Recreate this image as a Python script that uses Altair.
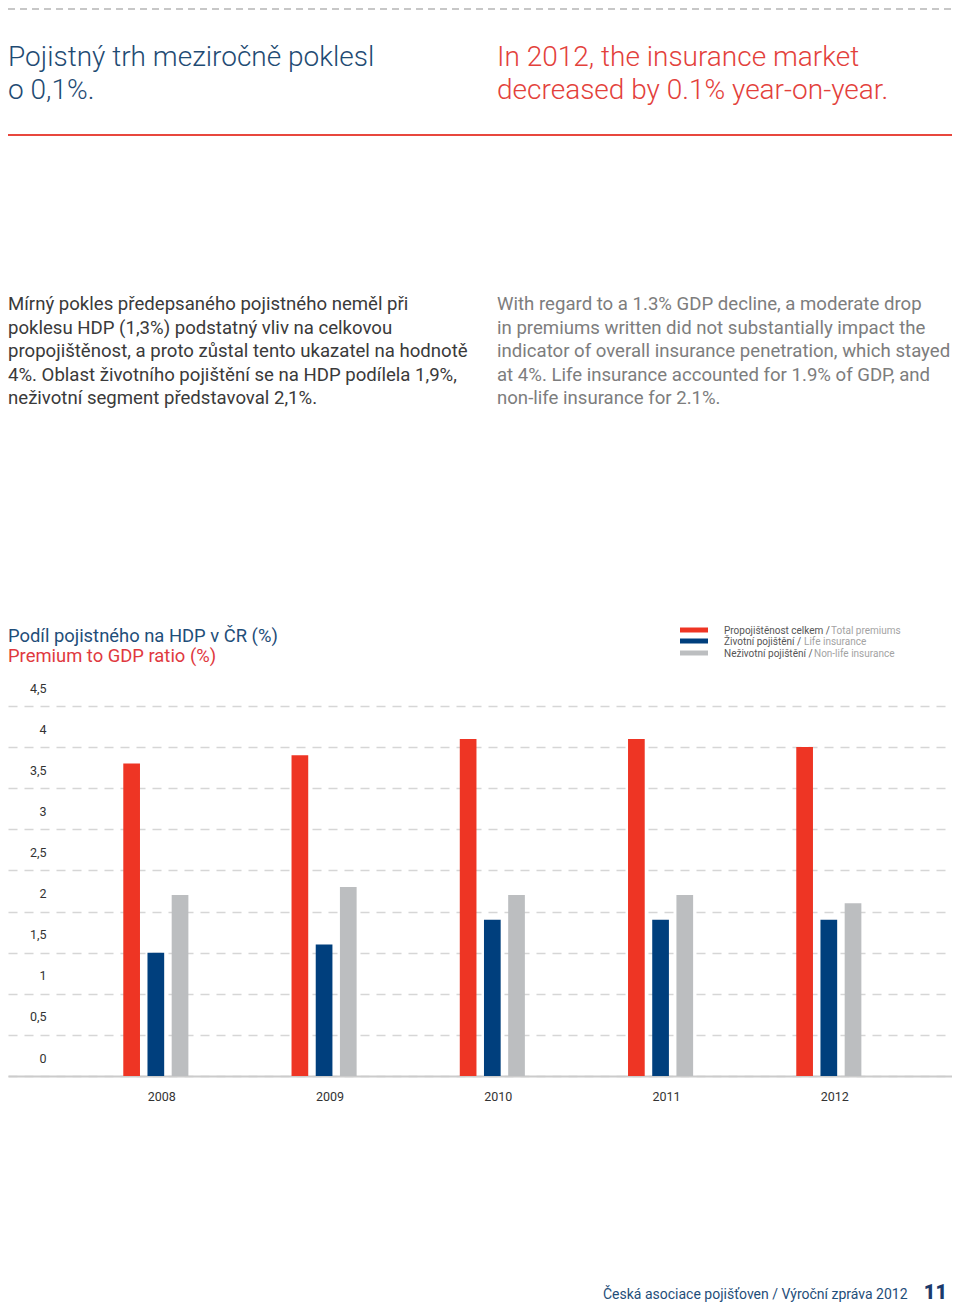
import altair as alt
import pandas as pd

# ---- data ----
years = ["2008", "2009", "2010", "2011", "2012"]
series = ["Propojištěnost celkem", "Životní pojištění", "Neživotní pojištění"]
series_en = ["Total premiums", "Life insurance", "Non-life insurance"]
total = [3.8, 3.9, 4.1, 4.1, 4.0]
life = [1.5, 1.6, 1.9, 1.9, 1.9]
nonlife = [2.2, 2.3, 2.2, 2.2, 2.1]
y_ticks = [0, 0.5, 1, 1.5, 2, 2.5, 3, 3.5, 4, 4.5]

colors = ["#ee3524", "#003f7d", "#bcbec0"]

head_cz = ["Pojistný trh meziročně poklesl", "o 0,1%."]
head_en = ["In 2012, the insurance market", "decreased by 0.1% year-on-year."]
para_cz = [
    "Mírný pokles předepsaného pojistného neměl při",
    "poklesu HDP (1,3%) podstatný vliv na celkovou",
    "propojištěnost, a proto zůstal tento ukazatel na hodnotě",
    "4%. Oblast životního pojištění se na HDP podílela 1,9%,",
    "neživotní segment představoval 2,1%.",
]
para_en = [
    "With regard to a 1.3% GDP decline, a moderate drop",
    "in premiums written did not substantially impact the",
    "indicator of overall insurance penetration, which stayed",
    "at 4%. Life insurance accounted for 1.9% of GDP, and",
    "non-life insurance for 2.1%.",
]
title_cz = "Podíl pojistného na HDP v ČR (%)"
title_en = "Premium to GDP ratio (%)"
footer = "Česká asociace pojišťoven / Výroční zpráva 2012"
page_no = "11"

FONT = "Roboto"

rows = []
for vals, s in zip([total, life, nonlife], series):
    for y, v in zip(years, vals):
        rows.append({"year": y, "series": s, "value": v})
df = pd.DataFrame(rows)
one = pd.DataFrame({"k": [0]})

W, H = 944, 370

bars = alt.Chart(df).mark_bar().encode(
    x=alt.X(
        "year:N",
        scale=alt.Scale(paddingInner=0, paddingOuter=0.3054, align=0.6197),
        axis=alt.Axis(
            title=None, ticks=False, labelAngle=0, labelPadding=14, labelOffset=6,
            domainColor="#cccccc", domainWidth=2, labelFontSize=12.5,
            labelColor="#333333", labelFont=FONT, grid=False,
        ),
    ),
    xOffset=alt.XOffset(
        "series:N", sort=series,
        scale=alt.Scale(range=[51.6, 116.7], paddingInner=0.31, paddingOuter=0),
    ),
    y=alt.Y(
        "value:Q",
        scale=alt.Scale(domain=[0, 4.5], nice=False),
        axis=alt.Axis(
            title=None, values=y_ticks, ticks=False, domain=False, grid=True,
            gridDash=[9, 7], gridColor="#d6d6d6", gridWidth=1.5,
            labelExpr="replace(format(datum.value, '~g'), '.', ',')",
            labelPadding=-38, labelOffset=-18, labelAlign="right",
            labelFlush=False, labelFontSize=12.5, labelColor="#333333",
            labelFont=FONT,
        ),
    ),
    color=alt.Color("series:N", scale=alt.Scale(domain=series, range=colors), legend=None),
)


def text_layer(lines, x, y, size, color, weight=400, line_height=None, align="left"):
    kw = dict(text=lines, align=align, baseline="alphabetic", font=FONT,
              fontSize=size, color=color, fontWeight=weight)
    if line_height:
        kw["lineHeight"] = line_height
    return alt.Chart(one).mark_text(**kw).encode(x=alt.value(x), y=alt.value(y))


def rule_layer(x1, x2, y, color, width, dash=None):
    kw = dict(color=color, strokeWidth=width)
    if dash:
        kw["strokeDash"] = dash
    return alt.Chart(one).mark_rule(**kw).encode(
        x=alt.value(x1), x2=alt.value(x2), y=alt.value(y))


layers = [bars]
# top dashed line and red rule
layers.append(rule_layer(0, W, -697, "#b5b5b5", 1.5, [7, 5]))
layers.append(rule_layer(0, W, -571, "#e8473d", 2))
# headlines
layers.append(text_layer(head_cz, 0, -640, 28, "#1f4b73", 300, 32.7))
layers.append(text_layer(head_en, 489, -640, 28, "#e3413b", 300, 32.7))
# paragraphs
layers.append(text_layer(para_cz, 0, -396, 18.6, "#3a3a3a", 400, 23.6))
layers.append(text_layer(para_en, 489, -396, 18.6, "#7d7d7d", 400, 23.6))
# chart titles
layers.append(text_layer(title_cz, 0, -64, 18.4, "#1f4e79"))
layers.append(text_layer(title_en, 0, -44, 18.4, "#e0393e"))

# custom legend
leg_y = [-76, -65, -53]
leg_en_x = [823, 796, 806]
for name, en, col, yy, ex in zip(series, series_en, colors, leg_y, leg_en_x):
    layers.append(
        alt.Chart(one).mark_rect(color=col).encode(
            x=alt.value(672), x2=alt.value(700), y=alt.value(yy - 2.5), y2=alt.value(yy + 2.5))
    )
    layers.append(text_layer(name + " /", 716, yy + 3.5, 10, "#555555"))
    layers.append(text_layer(en, ex, yy + 3.5, 10, "#a3a3a3"))

# footer
layers.append(text_layer(footer, 595, 593, 14, "#1f4e79"))
layers.append(text_layer(page_no, 939, 593, 20, "#1b3a6b", 900, None, "right"))

chart = alt.layer(*layers).properties(
    width=W, height=H, autosize="none",
    padding={"left": 0, "top": 698, "right": 0, "bottom": 229},
).configure_view(stroke=None)

chart.save("out.html", embed_options={"renderer": "svg", "actions": False})
